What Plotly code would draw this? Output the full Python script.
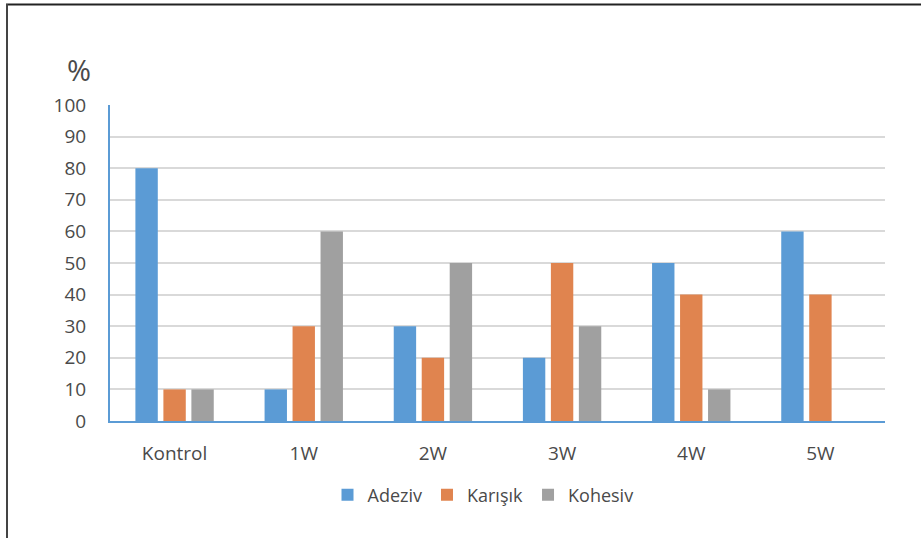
import plotly.graph_objects as go

categories = ["Kontrol", "1W", "2W", "3W", "4W", "5W"]
adeziv = [80, 10, 30, 20, 50, 60]
karisik = [10, 30, 20, 50, 40, 40]
kohesiv = [10, 60, 50, 30, 10, 0]
y_ticks = list(range(0, 101, 10))

W, H = 921, 538
L, R, T, B = 110, 36, 105, 117
pw, ph = W - L - R, H - T - B


def px_x(x):
    return (x - L) / pw


def px_y(y):
    return (H - B - y) / ph


font_family = "Open Sans, Lato, sans-serif"
text_color = "#4a4a4a"

fig = go.Figure()
for name, vals, color in [
    ("Adeziv", adeziv, "#5B9BD5"),
    ("Karışık", karisik, "#E0844F"),
    ("Kohesiv", kohesiv, "#A0A0A0"),
]:
    fig.add_trace(go.Bar(x=categories, y=vals, name=name, marker_color=color,
                         marker_line_width=0))

fig.update_layout(
    width=W, height=H,
    margin=dict(l=L, r=R, t=T, b=B),
    paper_bgcolor="white", plot_bgcolor="white",
    barmode="group", bargap=0.35, bargroupgap=0.2,
    font=dict(family=font_family, size=19, color=text_color),
    showlegend=True,
    legend=dict(orientation="h", x=px_x(483), xanchor="center",
                y=px_y(495), yanchor="middle",
                font=dict(size=18, color=text_color),
                itemwidth=30, tracegroupgap=0),
    xaxis=dict(showline=True, linecolor="#5B9BD5", linewidth=2,
               ticks="", ticklabelstandoff=14, showgrid=False),
    yaxis=dict(range=[0, 100], tickvals=y_ticks, showgrid=True,
               gridcolor="#D9D9D9", gridwidth=1.5,
               showline=True, linecolor="#5B9BD5", linewidth=2,
               ticks="", ticklabelstandoff=18, zeroline=False),
)

fig.add_annotation(text="%", x=px_x(79), y=px_y(69), xref="paper", yref="paper",
                   showarrow=False, font=dict(size=29, color=text_color),
                   xanchor="center", yanchor="middle")

# outer frame lines (top and left)
fig.add_shape(type="line", xref="paper", yref="paper",
              x0=px_x(6), x1=px_x(W + 2), y0=px_y(4.5), y1=px_y(4.5),
              line=dict(color="#222222", width=2))
fig.add_shape(type="line", xref="paper", yref="paper",
              x0=px_x(7), x1=px_x(7), y0=px_y(4), y1=px_y(H + 2),
              line=dict(color="#444444", width=2))

fig.write_html("out.html")
